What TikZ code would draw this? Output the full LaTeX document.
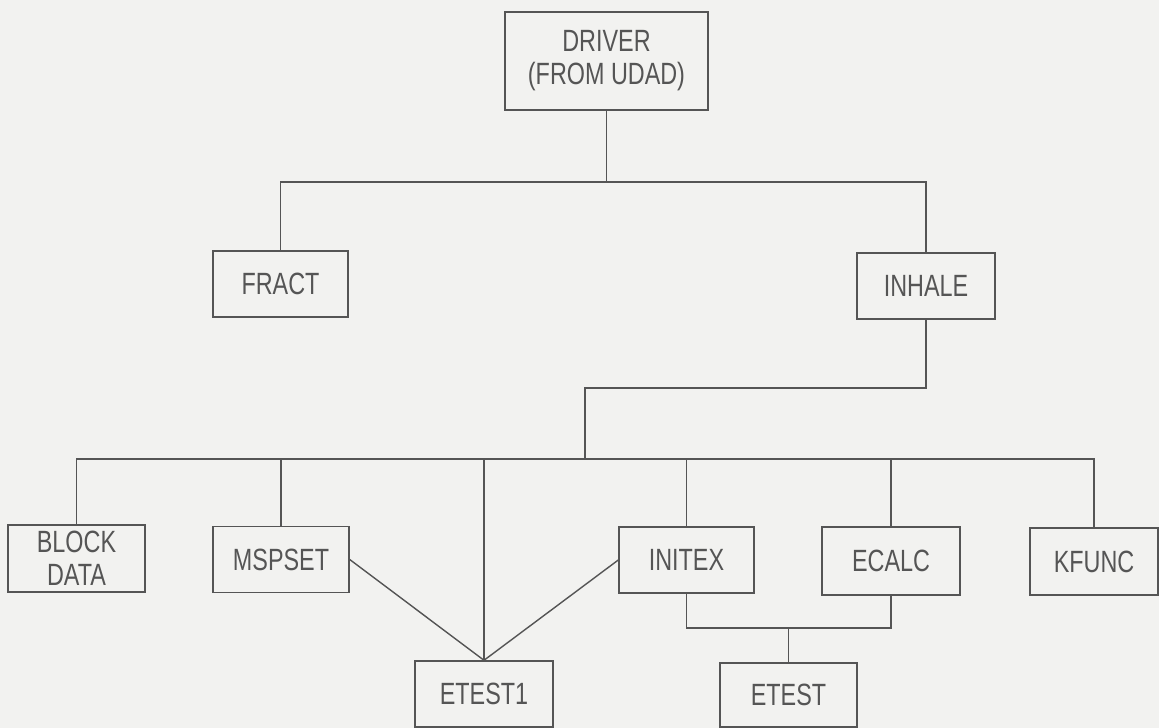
\documentclass[tikz,border=0pt]{standalone}
\usepackage{fontspec}
\setmainfont{Liberation Sans}[FakeStretch=0.76]
\usetikzlibrary{arrows}
\definecolor{ink}{RGB}{85,85,85}
\definecolor{paper}{RGB}{242,242,240}

\begin{document}
\begin{tikzpicture}[line width=0.8pt,draw=ink,
  main node/.style={draw=ink,text=ink,rectangle,inner sep=0pt,align=center,
    font=\fontsize{17.5}{18.7}\selectfont,minimum width=2.74cm,minimum height=1.32cm}]
  \fill[paper] (0,0) rectangle (23.18,14.56);
  \useasboundingbox (0,0) rectangle (23.18,14.56);
  \node[main node,minimum width=4.06cm,minimum height=1.96cm] (driver) at (12.13,13.34) {DRIVER\\(FROM UDAD)};
  \node[main node,minimum width=2.70cm] (fract)  at (5.61,8.88)  {FRACT};
  \node[main node,minimum width=2.76cm] (inhale) at (18.52,8.84) {INHALE};
  \node[main node,minimum height=1.34cm] (block) at (1.53,3.39)  {BLOCK\\DATA};
  \node[main node,minimum width=2.72cm] (mspset) at (5.62,3.37)  {MSPSET};
  \node[main node,minimum width=2.70cm] (initex) at (13.73,3.36) {INITEX};
  \node[main node,minimum width=2.76cm,minimum height=1.36cm] (ecalc) at (17.82,3.34) {ECALC};
  \node[main node,minimum width=2.56cm,minimum height=1.34cm] (kfunc) at (21.88,3.33) {KFUNC};
  \node[main node,minimum width=2.76cm] (etest1) at (9.68,0.68)  {ETEST1};
  \node[main node,minimum height=1.28cm] (etest) at (15.77,0.66)  {ETEST};
  \coordinate (j1) at (12.13,10.92);
  \coordinate (j2) at (11.70,6.80);
  \coordinate (j3) at (11.70,5.38);
  \coordinate (j4) at (15.77,2.00);
  \draw (driver) -- (j1);
  \draw (fract) |- (j1) -| (inhale);
  \draw (inhale) |- (j2) -- (j3);
  \draw (block) |- (j3) -| (kfunc);
  \draw (mspset.north) -- (mspset.north |- j3);
  \draw (etest1.north) -- (etest1.north |- j3);
  \draw (initex.north) -- (initex.north |- j3);
  \draw (ecalc.north) -- (ecalc.north |- j3);
  \draw (mspset.east) -- (etest1.north) -- (initex.west);
  \draw (initex) |- (j4) -| (ecalc);
  \draw (j4) -- (etest);
\end{tikzpicture}
\end{document}
